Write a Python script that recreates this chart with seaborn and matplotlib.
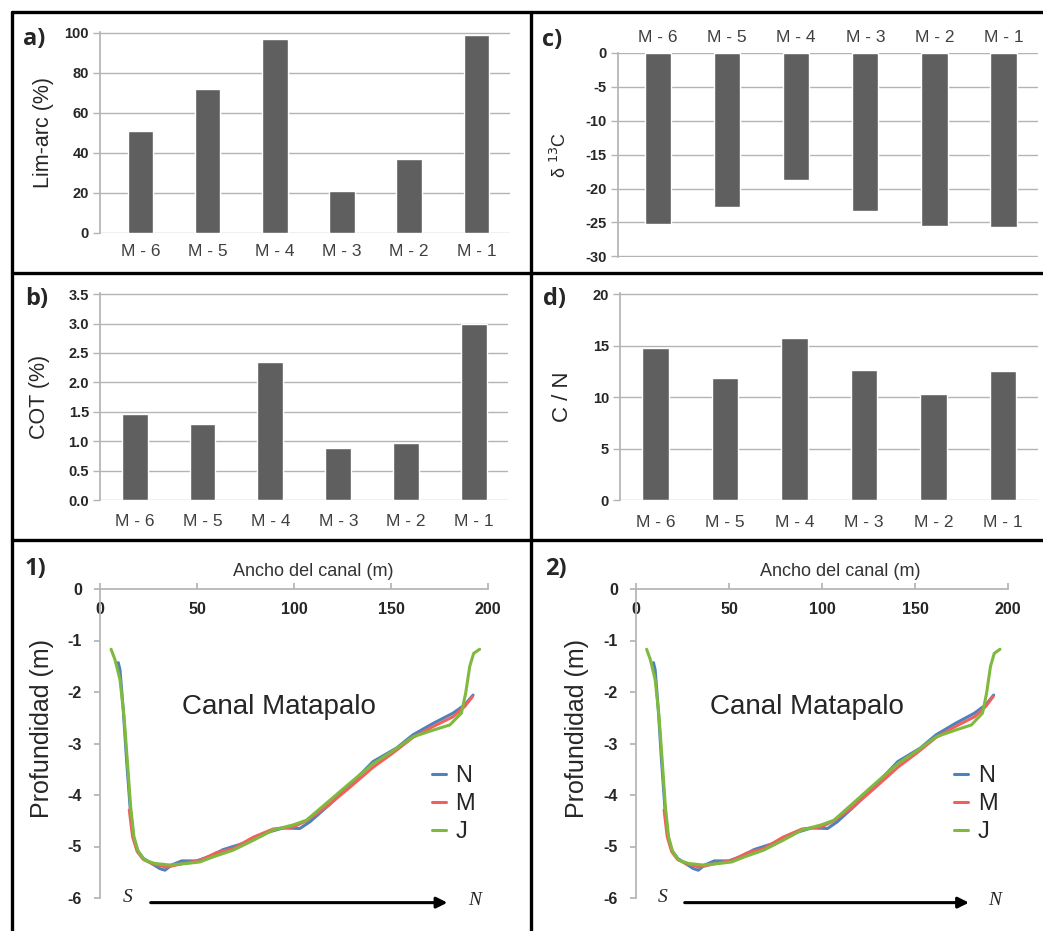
import pandas as pd
import seaborn as sns
import matplotlib.pyplot as plt
from matplotlib.lines import Line2D

# --- datos ---
muestras = ["M - 6", "M - 5", "M - 4", "M - 3", "M - 2", "M - 1"]
lim_arc = [51, 72, 97, 21, 37, 99]
cot = [1.47, 1.30, 2.35, 0.88, 0.97, 3.00]
d13c = [-25.2, -22.7, -18.7, -23.3, -25.5, -25.7]
c_n = [14.8, 11.8, 15.7, 12.6, 10.3, 12.5]

# perfiles del canal (ancho m, profundidad m)
x_n = [9.4, 10.3, 12.0, 13.7, 15.5, 17.2, 19.2, 22.3, 26.6, 30.9, 33.5, 36.9, 42.1,
       49.8, 56.7, 63.5, 73.8, 84.1, 94.4, 103.0, 108.2, 118.5, 130.5, 140.8,
       152.8, 161.4, 171.7, 182.0, 188.0, 192.3]
prof_n = [-1.43, -1.57, -2.35, -3.32, -4.23, -4.81, -5.07, -5.23, -5.33, -5.43, -5.46,
          -5.36, -5.28, -5.28, -5.19, -5.06, -4.94, -4.75, -4.64, -4.65, -4.52,
          -4.18, -3.74, -3.35, -3.09, -2.83, -2.61, -2.41, -2.25, -2.06]
x_m = [15.1, 16.8, 19.2, 22.3, 27.5, 34.3, 42.9, 51.5, 60.1, 68.7, 79.0, 89.3, 99.6,
       106.4, 116.7, 128.8, 140.8, 151.1, 161.4, 171.7, 182.0, 188.0, 192.0]
prof_m = [-4.29, -4.81, -5.10, -5.25, -5.34, -5.40, -5.33, -5.27, -5.12, -5.04, -4.82,
          -4.66, -4.62, -4.50, -4.23, -3.85, -3.46, -3.18, -2.88, -2.67, -2.48,
          -2.28, -2.09]
x_j = [5.7, 7.7, 10.3, 12.4, 14.2, 15.8, 17.5, 19.7, 23.2, 28.3, 36.1, 44.6, 51.5,
       58.4, 68.7, 79.0, 89.3, 99.6, 106.4, 116.7, 128.8, 140.8, 151.1, 161.4,
       171.7, 180.3, 186.3, 188.5, 190.6, 192.6, 195.7]
prof_j = [-1.17, -1.37, -1.76, -2.48, -3.39, -4.23, -4.81, -5.10, -5.27, -5.33, -5.36,
          -5.33, -5.30, -5.20, -5.07, -4.88, -4.68, -4.58, -4.49, -4.16, -3.77,
          -3.39, -3.14, -2.87, -2.74, -2.64, -2.41, -2.02, -1.50, -1.25, -1.17]

W, H = 1043, 931
GRID = "#b4b4b4"
BAR = "#5f5f5f"

sns.set_theme(style="white")
plt.rcParams["font.family"] = ["Liberation Sans", "DejaVu Sans"]
plt.rcParams["axes.unicode_minus"] = False

fig = plt.figure(figsize=(W / 100, H / 100), dpi=100)


def px_axes(l, t, r, b):
    return fig.add_axes([l / W, 1 - b / H, (r - l) / W, (b - t) / H])


def bar_panel(box, values, ylim, yticks, fmt, ylabel, ylab_x, x0, top=False, xpad=8,
              ylab_size=14):
    ax = px_axes(*box)
    df = pd.DataFrame({"muestra": muestras, "valor": values})
    sns.barplot(data=df, x="muestra", y="valor", color=BAR, width=0.38,
                saturation=1, ax=ax)
    ax.set_xlim(x0, 5.5)
    ax.set_ylim(*ylim)
    ax.set_yticks(yticks)
    ax.set_yticklabels([fmt.format(v) for v in yticks], fontweight="bold", fontsize=10.5)
    for s in ["top", "right", "bottom"]:
        ax.spines[s].set_visible(False)
    ax.spines["left"].set_color(GRID)
    ax.yaxis.grid(True, color=GRID, lw=1)
    ax.set_axisbelow(True)
    ax.tick_params(axis="y", length=5, width=1, color=GRID, direction="out", pad=3,
                   left=True)
    ax.tick_params(axis="x", length=0, labelsize=12.5, labelcolor="#404040", pad=xpad)
    if top:
        ax.xaxis.tick_top()
    ax.set_xlabel("")
    ax.set_ylabel(ylabel, fontsize=ylab_size, va="center")
    l, t, r, b = box
    ax.yaxis.set_label_coords((ylab_x - l) / (r - l), 0.5)
    return ax


bar_panel((100, 32, 510, 233), lim_arc, (0, 100.5), range(0, 101, 20), "{:d}",
          "Lim-arc (%)", 44, -0.6, ylab_size=15.5)
bar_panel((100, 293, 508, 500), cot, (0, 3.52), [0, .5, 1, 1.5, 2, 2.5, 3, 3.5],
          "{:.1f}", "COT (%)", 40, -0.51, xpad=10, ylab_size=15.5)
bar_panel((618, 53, 1038, 257), d13c, (-30.1, 0), range(-30, 1, 5), "{:d}",
          r"δ $^{13}$C", 560, -0.58, top=True, xpad=6, ylab_size=13)
bar_panel((620, 293, 1038, 500), c_n, (0, 20.1), range(0, 21, 5), "{:d}",
          "C / N", 562, -0.51, xpad=11, ylab_size=16)

perfil = pd.concat([
    pd.DataFrame({"ancho": x_n, "prof": prof_n, "serie": "N"}),
    pd.DataFrame({"ancho": x_m, "prof": prof_m, "serie": "M"}),
    pd.DataFrame({"ancho": x_j, "prof": prof_j, "serie": "J"}),
])
colores = {"N": "#4f81bd", "M": "#f0615e", "J": "#7fba3f"}


def profile_panel(box, ylab_x):
    l, t, r, b = box
    ax = px_axes(*box)
    sns.lineplot(data=perfil, x="ancho", y="prof", hue="serie", palette=colores,
                 sort=False, estimator=None, lw=2.2, ax=ax)
    ax.set_xlim(0, 200)
    ax.set_ylim(-6, 0)
    ax.set_xticks(range(0, 201, 50))
    ax.set_yticks(range(-6, 1))
    for s in ["bottom", "right"]:
        ax.spines[s].set_visible(False)
    for s in ["top", "left"]:
        ax.spines[s].set_color(GRID)
    ax.xaxis.tick_top()
    ax.tick_params(axis="x", length=4, color=GRID, direction="out", pad=-24,
                   labelsize=11.5, top=True)
    ax.tick_params(axis="y", length=4, color=GRID, direction="out", pad=9,
                   labelsize=11.5, left=True)
    for lab in ax.get_xticklabels() + ax.get_yticklabels():
        lab.set_fontweight("bold")
    ax.xaxis.set_label_position("top")
    ax.set_xlabel("Ancho del canal (m)", fontsize=13, color="#333333", va="center")
    ax.xaxis.set_label_coords(0.55, 1 + (589 - 571) / (b - t))
    ax.set_ylabel("Profundidad (m)", fontsize=18, va="center")
    ax.yaxis.set_label_coords((ylab_x - l) / (r - l), 0.55)
    ax.text(92, -2.3, "Canal Matapalo", fontsize=20, ha="center", va="center")
    h, lb = ax.get_legend_handles_labels()
    ax.legend(h, lb, loc="upper left", bbox_to_anchor=(0.855, 0.43), frameon=False,
              fontsize=17, handlelength=0.6, handletextpad=0.4, labelspacing=0.25,
              borderpad=0, borderaxespad=0)
    ax.annotate("", xy=(180.5, -6.09), xytext=(24.7, -6.09),
                arrowprops=dict(arrowstyle="-|>", lw=2.2, color="black",
                                mutation_scale=16), annotation_clip=False)
    ax.text(14.4, -6.0, "S", fontsize=14, fontstyle="italic", ha="center",
            va="center", family="Liberation Serif")
    ax.text(193, -6.05, "N", fontsize=14, fontstyle="italic", ha="center",
            va="center", family="Liberation Serif")
    return ax


profile_panel((100, 589, 488, 898), 42)
profile_panel((636, 589, 1008, 898), 577)

# marcos del mosaico
def fline(x0, y0, x1, y1):
    fig.add_artist(Line2D([x0 / W, x1 / W], [1 - y0 / H, 1 - y1 / H], color="black",
                          lw=2.4, transform=fig.transFigure))


fline(12, 12, W, 12)
fline(12, 12, 12, H)
fline(531, 12, 531, H)
fline(12, 273, W, 273)
fline(12, 540, W, 540)

for txt, x, y in [("a)", 23, 39), ("b)", 25, 299), ("c)", 542, 40), ("d)", 543, 299),
                  ("1)", 25, 569), ("2)", 545, 569)]:
    fig.text(x / W, 1 - y / H, txt, fontsize=17, fontweight="bold", ha="left",
             va="center", family="Open Sans")

fig.savefig("out.png", dpi=100)
